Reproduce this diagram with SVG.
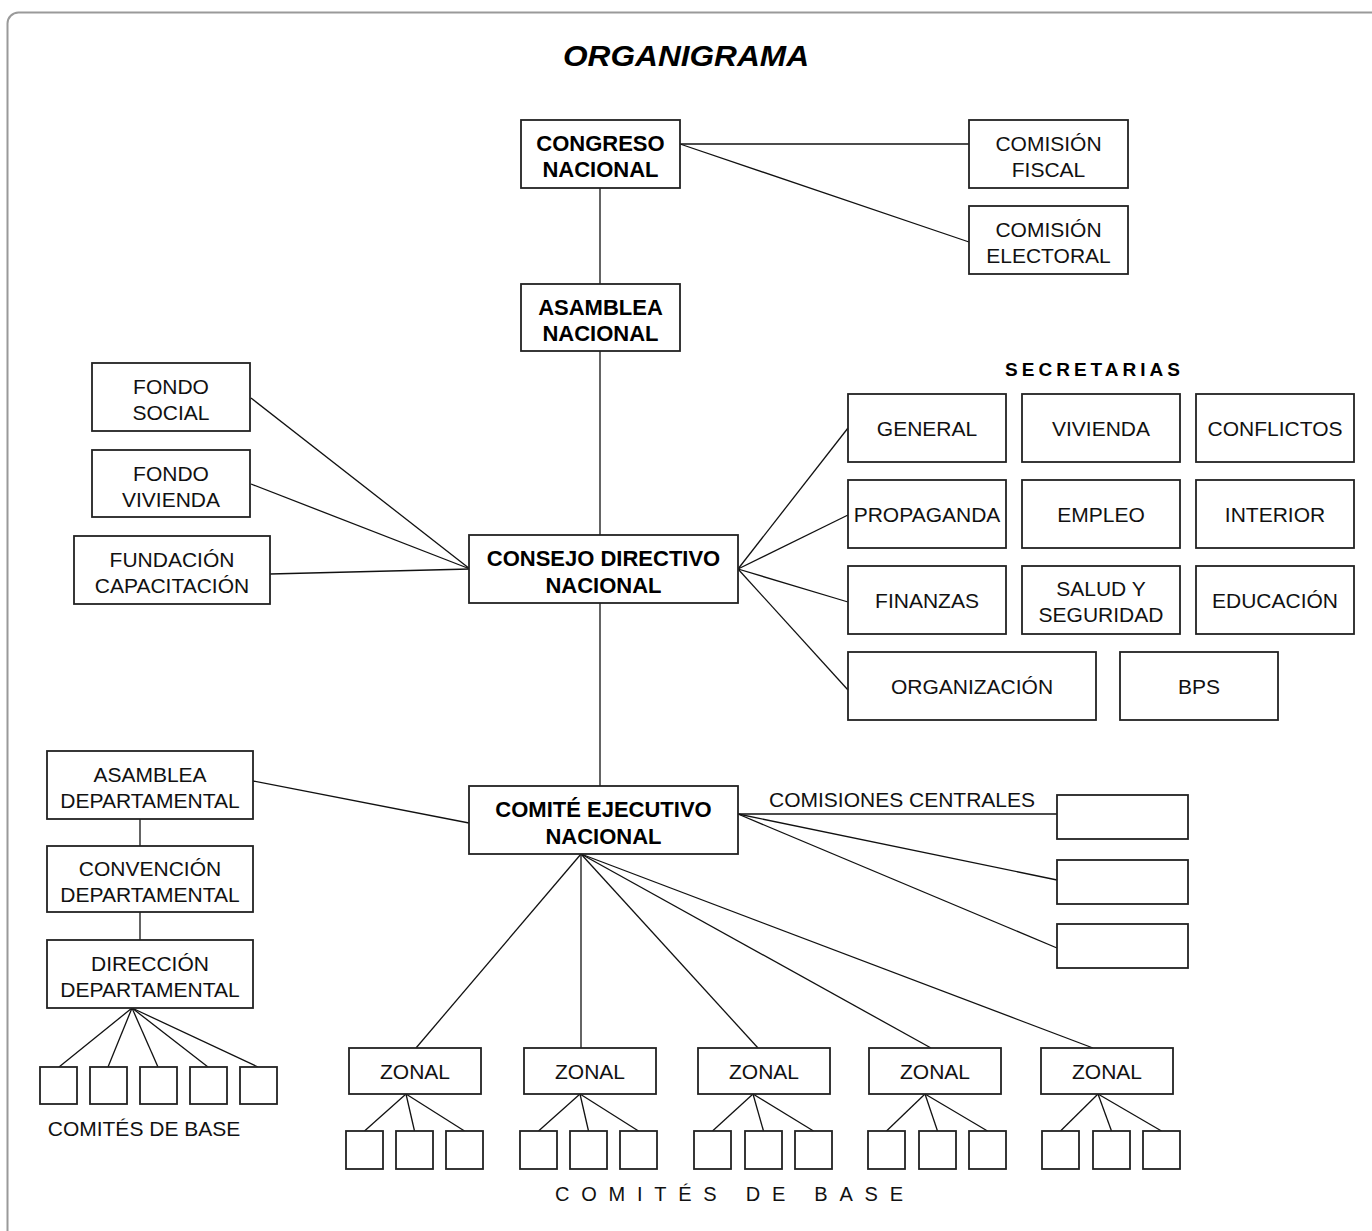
<svg xmlns="http://www.w3.org/2000/svg" width="1372" height="1231" viewBox="0 0 1372 1231">
<style>
.bx{fill:#fff;stroke:#222;stroke-width:1.8}
.ln{stroke:#111;stroke-width:1.3;fill:none}
.t{font-family:"Liberation Sans",Arial,sans-serif;font-size:21px;fill:#111;text-anchor:middle}
.tb{font-family:"Liberation Sans",Arial,sans-serif;font-size:22px;font-weight:bold;fill:#000;text-anchor:middle}
</style>
<rect x="0" y="0" width="1372" height="1231" fill="#fff"/>
<rect x="7.5" y="12.5" width="1400" height="1300" rx="11" fill="none" stroke="#9a9a9a" stroke-width="2"/>
<text x="686" y="66" font-family="'Liberation Sans',Arial,sans-serif" font-size="29" font-weight="bold" font-style="italic" text-anchor="middle" textLength="246" lengthAdjust="spacingAndGlyphs">ORGANIGRAMA</text>

<g id="connectors">
<line class="ln" x1="680" y1="144" x2="969" y2="144"/>
<line class="ln" x1="680" y1="144" x2="969" y2="242"/>
<line class="ln" x1="600" y1="188" x2="600" y2="284"/>
<line class="ln" x1="600" y1="351" x2="600" y2="535"/>
<line class="ln" x1="600" y1="603" x2="600" y2="786"/>
<line class="ln" x1="251" y1="398" x2="470" y2="569"/>
<line class="ln" x1="251" y1="484" x2="470" y2="569"/>
<line class="ln" x1="270" y1="574" x2="470" y2="569"/>
<line class="ln" x1="738" y1="569" x2="848" y2="428"/>
<line class="ln" x1="738" y1="569" x2="848" y2="515"/>
<line class="ln" x1="738" y1="569" x2="848" y2="602"/>
<line class="ln" x1="738" y1="569" x2="848" y2="690"/>
<line class="ln" x1="253" y1="781" x2="469" y2="823"/>
<line class="ln" x1="140" y1="819" x2="140" y2="846"/>
<line class="ln" x1="140" y1="912" x2="140" y2="940"/>
<line class="ln" x1="132" y1="1008" x2="59" y2="1067"/>
<line class="ln" x1="132" y1="1008" x2="108" y2="1067"/>
<line class="ln" x1="132" y1="1008" x2="158" y2="1067"/>
<line class="ln" x1="132" y1="1008" x2="208" y2="1067"/>
<line class="ln" x1="132" y1="1008" x2="258" y2="1067"/>
<line class="ln" x1="738" y1="814" x2="1057" y2="814"/>
<line class="ln" x1="738" y1="814" x2="1057" y2="880"/>
<line class="ln" x1="738" y1="814" x2="1057" y2="948"/>
<line class="ln" x1="581" y1="854" x2="416" y2="1048"/>
<line class="ln" x1="581" y1="854" x2="581" y2="1048"/>
<line class="ln" x1="581" y1="854" x2="758" y2="1048"/>
<line class="ln" x1="581" y1="854" x2="931" y2="1048"/>
<line class="ln" x1="581" y1="854" x2="1093" y2="1048"/>
<line class="ln" x1="406" y1="1094" x2="364.5" y2="1131"/>
<line class="ln" x1="406" y1="1094" x2="414.5" y2="1131"/>
<line class="ln" x1="406" y1="1094" x2="464.5" y2="1131"/>
<line class="ln" x1="580" y1="1094" x2="538.5" y2="1131"/>
<line class="ln" x1="580" y1="1094" x2="588.5" y2="1131"/>
<line class="ln" x1="580" y1="1094" x2="638.5" y2="1131"/>
<line class="ln" x1="753" y1="1094" x2="712.5" y2="1131"/>
<line class="ln" x1="753" y1="1094" x2="763.5" y2="1131"/>
<line class="ln" x1="753" y1="1094" x2="813.5" y2="1131"/>
<line class="ln" x1="925" y1="1094" x2="886.5" y2="1131"/>
<line class="ln" x1="925" y1="1094" x2="937.5" y2="1131"/>
<line class="ln" x1="925" y1="1094" x2="987.5" y2="1131"/>
<line class="ln" x1="1098" y1="1094" x2="1060.5" y2="1131"/>
<line class="ln" x1="1098" y1="1094" x2="1111.5" y2="1131"/>
<line class="ln" x1="1098" y1="1094" x2="1161.5" y2="1131"/>
</g>

<g id="congreso"><rect class="bx" x="521" y="120" width="159" height="68"/><text class="tb" x="600.5" y="151">CONGRESO</text><text class="tb" x="600.5" y="177">NACIONAL</text></g>
<g id="comision-fiscal"><rect class="bx" x="969" y="120" width="159" height="68"/><text class="t" x="1048.5" y="151">COMISIÓN</text><text class="t" x="1048.5" y="177">FISCAL</text></g>
<g id="comision-electoral"><rect class="bx" x="969" y="206" width="159" height="68"/><text class="t" x="1048.5" y="237">COMISIÓN</text><text class="t" x="1048.5" y="263">ELECTORAL</text></g>
<g id="asamblea-nacional"><rect class="bx" x="521" y="284" width="159" height="67"/><text class="tb" x="600.5" y="315">ASAMBLEA</text><text class="tb" x="600.5" y="341">NACIONAL</text></g>
<g id="consejo"><rect class="bx" x="469" y="535" width="269" height="68"/><text class="tb" x="603.5" y="566">CONSEJO DIRECTIVO</text><text class="tb" x="603.5" y="593">NACIONAL</text></g>
<g id="comite"><rect class="bx" x="469" y="786" width="269" height="68"/><text class="tb" x="603.5" y="817">COMITÉ EJECUTIVO</text><text class="tb" x="603.5" y="844">NACIONAL</text></g>

<g id="fondo-social"><rect class="bx" x="92" y="363" width="158" height="68"/><text class="t" x="171" y="394">FONDO</text><text class="t" x="171" y="420">SOCIAL</text></g>
<g id="fondo-vivienda"><rect class="bx" x="92" y="450" width="158" height="67"/><text class="t" x="171" y="481">FONDO</text><text class="t" x="171" y="507">VIVIENDA</text></g>
<g id="fundacion"><rect class="bx" x="74" y="536" width="196" height="68"/><text class="t" x="172" y="567">FUNDACIÓN</text><text class="t" x="172" y="593">CAPACITACIÓN</text></g>

<text x="1005" y="376" font-family="'Liberation Sans',Arial,sans-serif" font-size="19" font-weight="bold" textLength="175" lengthAdjust="spacing">SECRETARIAS</text>
<g id="sec-general"><rect class="bx" x="848" y="394" width="158" height="68"/><text class="t" x="927" y="435.5">GENERAL</text></g>
<g id="sec-vivienda"><rect class="bx" x="1022" y="394" width="158" height="68"/><text class="t" x="1101" y="435.5">VIVIENDA</text></g>
<g id="sec-conflictos"><rect class="bx" x="1196" y="394" width="158" height="68"/><text class="t" x="1275" y="435.5">CONFLICTOS</text></g>
<g id="sec-propaganda"><rect class="bx" x="848" y="480" width="158" height="68"/><text class="t" x="927" y="521.5">PROPAGANDA</text></g>
<g id="sec-empleo"><rect class="bx" x="1022" y="480" width="158" height="68"/><text class="t" x="1101" y="521.5">EMPLEO</text></g>
<g id="sec-interior"><rect class="bx" x="1196" y="480" width="158" height="68"/><text class="t" x="1275" y="521.5">INTERIOR</text></g>
<g id="sec-finanzas"><rect class="bx" x="848" y="566" width="158" height="68"/><text class="t" x="927" y="607.5">FINANZAS</text></g>
<g id="sec-salud"><rect class="bx" x="1022" y="566" width="158" height="68"/><text class="t" x="1101" y="596">SALUD Y</text><text class="t" x="1101" y="622">SEGURIDAD</text></g>
<g id="sec-educacion"><rect class="bx" x="1196" y="566" width="158" height="68"/><text class="t" x="1275" y="607.5">EDUCACIÓN</text></g>
<g id="sec-organizacion"><rect class="bx" x="848" y="652" width="248" height="68"/><text class="t" x="972" y="693.5">ORGANIZACIÓN</text></g>
<g id="sec-bps"><rect class="bx" x="1120" y="652" width="158" height="68"/><text class="t" x="1199" y="693.5">BPS</text></g>

<g id="asamblea-dep"><rect class="bx" x="47" y="751" width="206" height="68"/><text class="t" x="150" y="782">ASAMBLEA</text><text class="t" x="150" y="808">DEPARTAMENTAL</text></g>
<g id="convencion-dep"><rect class="bx" x="47" y="846" width="206" height="66"/><text class="t" x="150" y="876">CONVENCIÓN</text><text class="t" x="150" y="902">DEPARTAMENTAL</text></g>
<g id="direccion-dep"><rect class="bx" x="47" y="940" width="206" height="68"/><text class="t" x="150" y="971">DIRECCIÓN</text><text class="t" x="150" y="997">DEPARTAMENTAL</text></g>
<g id="comites-dep">
<rect class="bx" x="40" y="1067" width="37" height="37"/>
<rect class="bx" x="90" y="1067" width="37" height="37"/>
<rect class="bx" x="140" y="1067" width="37" height="37"/>
<rect class="bx" x="190" y="1067" width="37" height="37"/>
<rect class="bx" x="240" y="1067" width="37" height="37"/>
<text class="t" x="144" y="1136">COMITÉS DE BASE</text>
</g>

<text x="769" y="807" font-family="'Liberation Sans',Arial,sans-serif" font-size="21" fill="#111">COMISIONES CENTRALES</text>
<g id="comisiones-centrales">
<rect class="bx" x="1057" y="795" width="131" height="44"/>
<rect class="bx" x="1057" y="860" width="131" height="44"/>
<rect class="bx" x="1057" y="924" width="131" height="44"/>
</g>

<g id="zonal-1"><rect class="bx" x="349" y="1048" width="132" height="46"/><text class="t" x="415" y="1079">ZONAL</text>
<rect class="bx" x="346" y="1131" width="37" height="38"/><rect class="bx" x="396" y="1131" width="37" height="38"/><rect class="bx" x="446" y="1131" width="37" height="38"/></g>
<g id="zonal-2"><rect class="bx" x="524" y="1048" width="132" height="46"/><text class="t" x="590" y="1079">ZONAL</text>
<rect class="bx" x="520" y="1131" width="37" height="38"/><rect class="bx" x="570" y="1131" width="37" height="38"/><rect class="bx" x="620" y="1131" width="37" height="38"/></g>
<g id="zonal-3"><rect class="bx" x="698" y="1048" width="132" height="46"/><text class="t" x="764" y="1079">ZONAL</text>
<rect class="bx" x="694" y="1131" width="37" height="38"/><rect class="bx" x="745" y="1131" width="37" height="38"/><rect class="bx" x="795" y="1131" width="37" height="38"/></g>
<g id="zonal-4"><rect class="bx" x="869" y="1048" width="132" height="46"/><text class="t" x="935" y="1079">ZONAL</text>
<rect class="bx" x="868" y="1131" width="37" height="38"/><rect class="bx" x="919" y="1131" width="37" height="38"/><rect class="bx" x="969" y="1131" width="37" height="38"/></g>
<g id="zonal-5"><rect class="bx" x="1041" y="1048" width="132" height="46"/><text class="t" x="1107" y="1079">ZONAL</text>
<rect class="bx" x="1042" y="1131" width="37" height="38"/><rect class="bx" x="1093" y="1131" width="37" height="38"/><rect class="bx" x="1143" y="1131" width="37" height="38"/></g>

<text x="555" y="1201" font-family="'Liberation Sans',Arial,sans-serif" font-size="20" fill="#111" textLength="348" lengthAdjust="spacing">COMITÉS DE BASE</text>
</svg>
